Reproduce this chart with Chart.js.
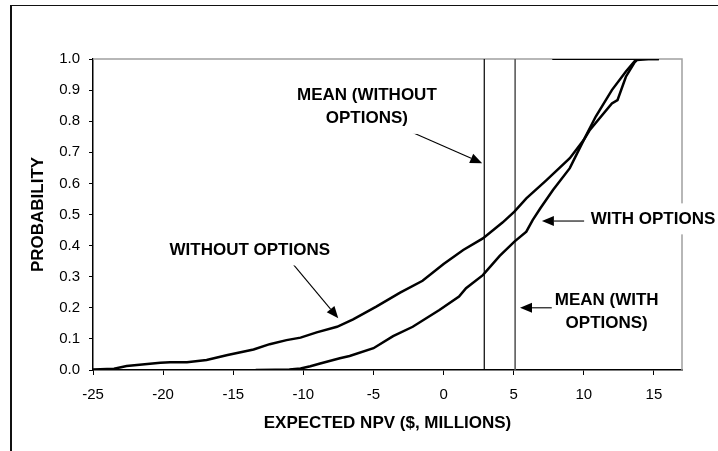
<!DOCTYPE html>
<html>
<head>
<meta charset="utf-8">
<script src="https://cdn.jsdelivr.net/npm/chart.js@4.4.1/dist/chart.umd.min.js"></script>
<style>
  html, body { margin: 0; padding: 0; background: #fff; }
  #wrap { position: relative; width: 718px; height: 451px; overflow: hidden; }
  #frame { position: absolute; left: 10px; top: 5px; right: -10px; bottom: -10px;
           border-left: 2px solid #111; border-top: 1.5px solid #111; pointer-events: none; }
</style>
</head>
<body>
<div id="wrap">
  <canvas id="npv" width="718" height="451"></canvas>
  <div id="frame"></div>
</div>
<script>
// ================================
// DATA
// ================================
const withoutX = [-25, -23.5, -22.6, -20.2, -19.5, -18.3, -16.9, -15.4, -13.55, -12.4,
                  -11.2, -10.2, -9.05, -7.6, -6.45, -4.8, -3.1, -1.5, 0, 1.4,
                  2.8, 4.2, 5.05, 5.9, 7.3, 9.0, 10.0, 10.4, 12.0, 12.4,
                  13.0, 13.6, 13.8, 14.6, 15.35];
const withoutY = [0.002, 0.004, 0.013, 0.023, 0.025, 0.025, 0.032, 0.048, 0.066, 0.083,
                  0.096, 0.104, 0.121, 0.139, 0.163, 0.204, 0.249, 0.287, 0.341, 0.386,
                  0.423, 0.474, 0.509, 0.552, 0.609, 0.681, 0.74, 0.77, 0.857, 0.868,
                  0.943, 0.988, 0.997, 1.0, 1.0];

const withX = [-13.4, -12, -11, -10.2, -9.5, -8.8, -7.4, -6.7, -5.0, -3.6,
               -2.2, -0.3, 1.1, 1.6, 2.8, 4.0, 5.05, 5.9, 6.35, 6.9,
               7.8, 9.0, 10.0, 10.85, 12.0, 13.0, 13.7, 13.9, 15.35];
const withY = [0, 0.001, 0.002, 0.005, 0.012, 0.021, 0.038, 0.045, 0.07, 0.109,
               0.139, 0.193, 0.236, 0.263, 0.305, 0.367, 0.413, 0.445, 0.482, 0.52,
               0.579, 0.649, 0.74, 0.815, 0.9, 0.96, 0.997, 1.0, 1.0];

const topLineX = [7.75, 15.35];
const topLineY = [1.0, 1.0];

const meanWithout = 2.9;
const meanWith = 5.1;

const xTicks = [-25, -20, -15, -10, -5, 0, 5, 10, 15];
const yTicks = [0, 0.1, 0.2, 0.3, 0.4, 0.5, 0.6, 0.7, 0.8, 0.9, 1.0];

// annotations, in data units
const noteText = [["MEAN (WITHOUT", "OPTIONS)"], ["WITHOUT OPTIONS"], ["WITH OPTIONS"], ["MEAN (WITH", "OPTIONS)"]];
const noteAt = [[-5.47, 0.846], [-13.82, 0.386], [14.93, 0.486], [11.63, 0.1875]];
const arrowFrom = [[-2.42, 0.768], [-10.78, 0.343], [10.02, 0.479], [7.77, 0.2]];
const arrowTo = [[2.75, 0.665], [-7.51, 0.166], [7.01, 0.479], [5.45, 0.2]];

const FONT = "'Liberation Sans', Arial, sans-serif";

function pts(xs, ys) {
    return xs.map((v, i) => ({ x: v, y: ys[i] }));
}

// ================================
// FRAME + NOTES PLUGIN
// ================================
const notesPlugin = {
    id: "notes",
    beforeDatasetsDraw(chart) {
        const { ctx, chartArea: a } = chart;
        ctx.save();
        ctx.strokeStyle = "#a0a0a0";
        ctx.lineWidth = 1.5;
        ctx.beginPath();
        ctx.moveTo(a.left, a.top);
        ctx.lineTo(a.right, a.top);
        ctx.lineTo(a.right, a.bottom);
        ctx.stroke();
        ctx.restore();
    },
    afterDraw(chart) {
        const { ctx } = chart;
        const sx = chart.scales.x, sy = chart.scales.y;
        ctx.save();

        // arrows
        arrowFrom.forEach((f, i) => {
            const x1 = sx.getPixelForValue(f[0]), y1 = sy.getPixelForValue(f[1]);
            const x2 = sx.getPixelForValue(arrowTo[i][0]), y2 = sy.getPixelForValue(arrowTo[i][1]);
            const ang = Math.atan2(y2 - y1, x2 - x1);
            const len = 12, half = 5;
            ctx.strokeStyle = "#000";
            ctx.fillStyle = "#000";
            ctx.lineWidth = 1.1;
            ctx.beginPath();
            ctx.moveTo(x1, y1);
            ctx.lineTo(x2 - Math.cos(ang) * len, y2 - Math.sin(ang) * len);
            ctx.stroke();
            ctx.beginPath();
            ctx.moveTo(x2, y2);
            ctx.lineTo(x2 - Math.cos(ang) * len - Math.sin(ang) * half, y2 - Math.sin(ang) * len + Math.cos(ang) * half);
            ctx.lineTo(x2 - Math.cos(ang) * len + Math.sin(ang) * half, y2 - Math.sin(ang) * len - Math.cos(ang) * half);
            ctx.closePath();
            ctx.fill();
        });

        // labels
        ctx.font = "bold 17px " + FONT;
        ctx.textAlign = "center";
        ctx.textBaseline = "middle";
        const lh = 23;
        noteText.forEach((lines, i) => {
            const cx = sx.getPixelForValue(noteAt[i][0]);
            const cy = sy.getPixelForValue(noteAt[i][1]);
            const w = Math.max(...lines.map(t => ctx.measureText(t).width));
            const h = lines.length * lh + 8;
            ctx.fillStyle = "#fff";
            ctx.fillRect(cx - w / 2 - 3, cy - h / 2, w + 6, h);
            ctx.fillStyle = "#000";
            lines.forEach((t, k) => {
                ctx.fillText(t, cx, cy + (k - (lines.length - 1) / 2) * lh);
            });
        });
        ctx.restore();
    }
};

// ================================
// CHART
// ================================
const ctx = document.getElementById("npv").getContext("2d");

new Chart(ctx, {
    type: "line",
    data: {
        datasets: [
            { label: "Without options", data: pts(withoutX, withoutY), borderColor: "#000", borderWidth: 2.5 },
            { label: "With options", data: pts(withX, withY), borderColor: "#000", borderWidth: 2.5 },
            { label: "top", data: pts(topLineX, topLineY), borderColor: "#000", borderWidth: 2 },
            { label: "Mean without", data: pts([meanWithout, meanWithout], [0, 1]), borderColor: "#000", borderWidth: 1.2 },
            { label: "Mean with", data: pts([meanWith, meanWith], [0, 1]), borderColor: "#5a5a5a", borderWidth: 1.6 }
        ]
    },
    options: {
        responsive: false,
        animation: false,
        devicePixelRatio: 1,
        layout: { padding: { left: 0, top: 59, right: 36, bottom: 0 } },
        elements: {
            point: { radius: 0, hoverRadius: 0 },
            line: { tension: 0, fill: false }
        },
        plugins: {
            legend: { display: false },
            tooltip: { enabled: false }
        },
        scales: {
            x: {
                type: "linear",
                min: -25,
                max: 17,
                afterBuildTicks: s => { s.ticks = xTicks.map(v => ({ value: v })); },
                afterFit: s => { s.height = 81; },
                ticks: { color: "#000", font: { family: FONT, size: 15 }, padding: 11, maxRotation: 0, autoSkip: false },
                grid: { display: true, drawOnChartArea: false, drawTicks: true, tickLength: 5, color: "#000" },
                border: { display: true, color: "#000", width: 1.5 },
                title: {
                    display: true, text: "EXPECTED NPV ($, MILLIONS)", color: "#000",
                    font: { family: FONT, size: 17, weight: "bold" }, padding: { top: 0, bottom: 17 }
                }
            },
            y: {
                min: 0,
                max: 1,
                afterBuildTicks: s => { s.ticks = yTicks.map(v => ({ value: v })); },
                afterFit: s => { s.width = 93; },
                ticks: { color: "#000", font: { family: FONT, size: 15 }, padding: 9, callback: v => v.toFixed(1) },
                grid: { display: true, drawOnChartArea: false, drawTicks: true, tickLength: 4, color: "#000" },
                border: { display: true, color: "#000", width: 1.5 },
                title: {
                    display: true, text: "PROBABILITY", color: "#000",
                    font: { family: FONT, size: 17, weight: "bold" }, padding: { top: 28, bottom: 0 }
                }
            }
        }
    },
    plugins: [notesPlugin]
});
</script>
</body>
</html>
